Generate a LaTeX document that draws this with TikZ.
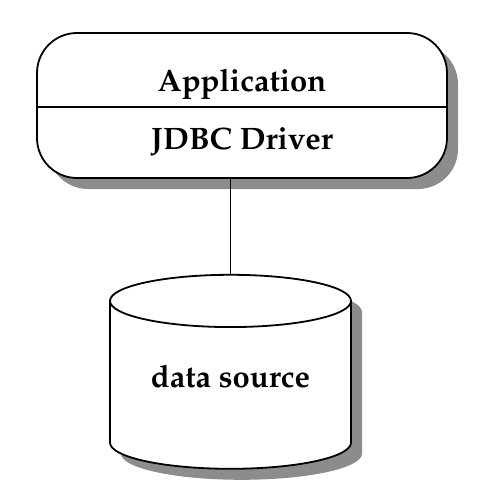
\documentclass[tikz,border=0pt]{standalone}
\usepackage[T1]{fontenc}
\usepackage{mathpazo}
\usepackage{tikz}
\usetikzlibrary{shapes.geometric,shadows,positioning}

\begin{document}
\begin{tikzpicture}[
    x=1pt, y=1pt,
    shade/.style={drop shadow={shadow xshift=11pt, shadow yshift=-11pt, fill=black!45, opacity=1}},
    layer/.style={rectangle, draw, line width=1.8pt, fill=white, rounded corners=40pt, minimum width=410pt, minimum height=145pt, shade},
    store/.style={cylinder, shape border rotate=90, aspect=0.315, draw, line width=1.8pt, fill=white, minimum width=241pt, minimum height=194pt, shade, font=\fontsize{31}{37}\selectfont\bfseries},
    caption/.style={font=\fontsize{31}{37}\selectfont\bfseries, anchor=base},
    link/.style={line width=1.8pt}
]
    \useasboundingbox (0,0) rectangle (497,488);

    % Application / driver stack
    \node[layer] (app) at (242,382.5) {};
    \node[caption] (apptext) at ([yshift=13.5pt]app.center) {Application};
    \node[caption] (drivertext) at ([yshift=-44.5pt]app.center) {JDBC Driver};
    \coordinate (divl) at ([yshift=-1.5pt]app.west);
    \coordinate (divr) at ([yshift=-1.5pt]app.east);
    \draw[link] (divl) -- (divr);

    % Data source
    \node[store, below=95pt of app, xshift=-11.5pt] (source) {\raisebox{12pt}[\height][\depth]{data source}};

    % Connection
    \draw[link] (source.top) -- (source.top |- app.south);

\end{tikzpicture}
\end{document}
